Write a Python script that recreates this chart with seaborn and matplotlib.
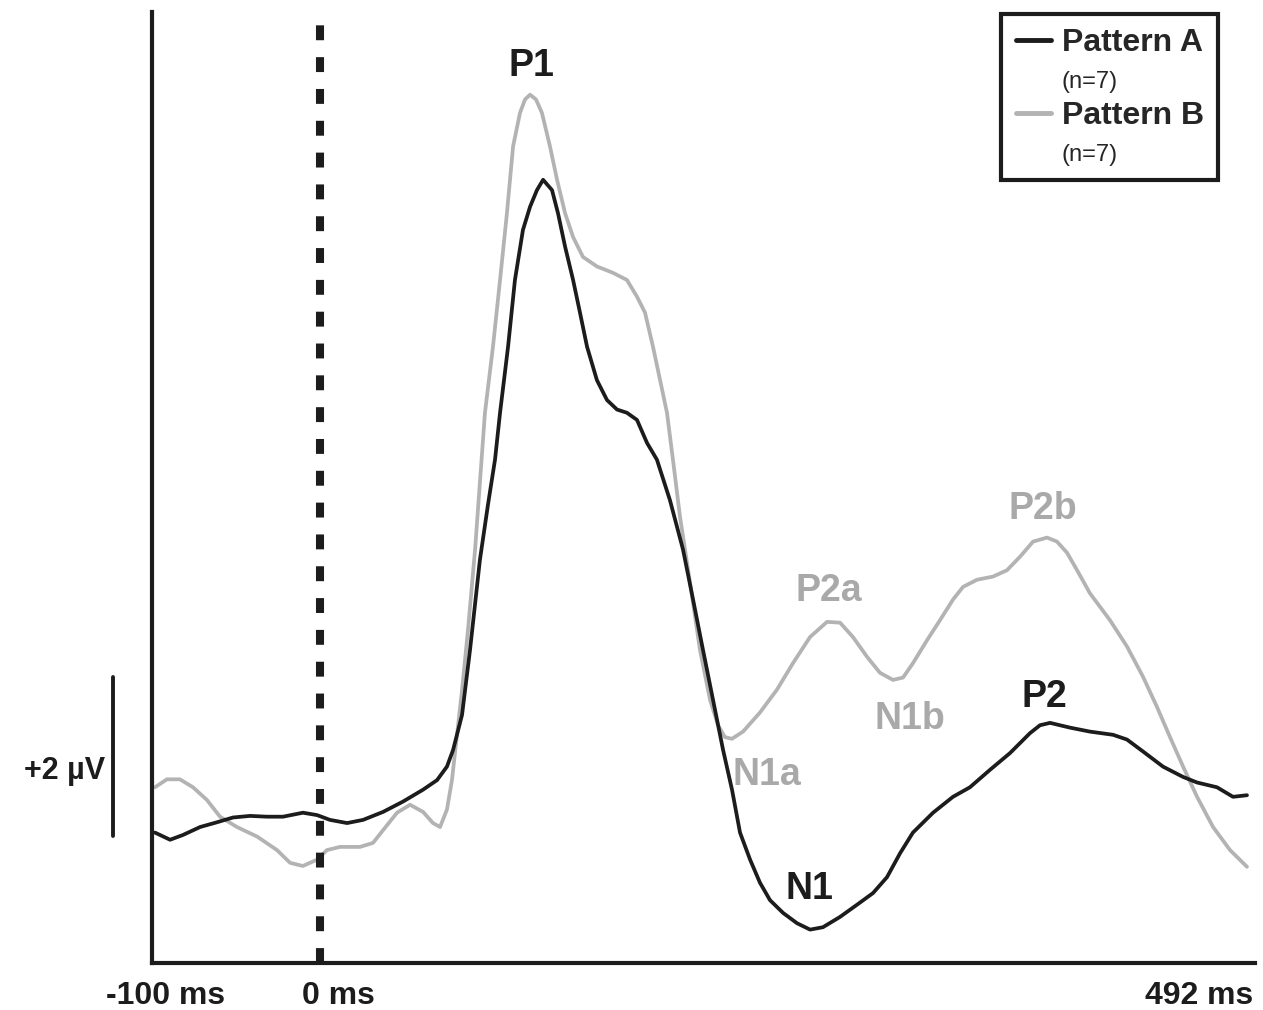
import numpy as np
import pandas as pd
import matplotlib.pyplot as plt
import seaborn as sns
from matplotlib.lines import Line2D
from matplotlib.transforms import ScaledTranslation

# Grand-average waveforms (time in ms, amplitude in microvolts)
time_a = [-98.4, -90.3, -83.4, -74.2, -65.1, -56.5, -47.4, -38.3, -29.7, -19.0,
          -11.4, -4.5, 4.7, 13.3, 24.0, 34.7, 45.5, 53.0, 58.3, 61.6,
          66.4, 70.7, 76.0, 80.3, 84.1, 86.8, 91.1, 94.8, 99.1, 102.9,
          106.6, 109.9, 114.7, 117.9, 121.7, 126.0, 129.7, 133.5, 138.8, 144.2,
          149.6, 154.9, 160.3, 165.7, 171.0, 178.0, 185.0, 190.4, 195.7, 201.1,
          206.5, 211.3, 215.6, 221.0, 226.3, 231.7, 238.7, 246.2, 253.2, 260.1,
          269.3, 280.0, 287.0, 294.5, 301.5, 308.4, 319.2, 329.9, 339.0, 349.8,
          360.5, 371.2, 376.6, 382.0, 392.7, 403.4, 415.8, 423.3, 431.9, 442.6,
          453.4, 460.9, 471.6, 480.2, 487.7]
amp_a = [-0.16, -0.25, -0.19, -0.09, -0.03, 0.03, 0.05, 0.04, 0.04, 0.09,
         0.06, 0.0, -0.04, 0.0, 0.10, 0.23, 0.38, 0.50, 0.67, 0.88,
         1.32, 2.14, 3.27, 3.96, 4.53, 5.12, 5.95, 6.79, 7.42, 7.71,
         7.92, 8.05, 7.92, 7.63, 7.21, 6.79, 6.38, 5.95, 5.53, 5.28,
         5.16, 5.12, 5.03, 4.74, 4.53, 4.02, 3.40, 2.77, 2.14, 1.51,
         0.88, 0.38, -0.16, -0.50, -0.79, -1.01, -1.17, -1.30, -1.38, -1.35,
         -1.22, -1.04, -0.92, -0.72, -0.42, -0.16, 0.09, 0.29, 0.41, 0.63,
         0.84, 1.09, 1.19, 1.22, 1.16, 1.11, 1.07, 1.01, 0.86, 0.67,
         0.54, 0.47, 0.41, 0.29, 0.31]

time_b = [-98.4, -92.0, -85.0, -78.0, -70.5, -63.5, -54.4, -43.6, -32.9, -25.9,
          -19.0, -11.4, -6.1, 0.9, 11.6, 18.6, 24.0, 31.5, 38.5, 45.5,
          50.8, 54.6, 58.3, 61.0, 62.6, 66.4, 69.6, 73.4, 78.7, 83.0,
          86.8, 90.5, 93.8, 97.5, 100.2, 102.9, 106.1, 109.3, 113.6, 117.4,
          121.7, 126.0, 131.3, 138.8, 147.4, 154.9, 160.3, 164.6, 168.9, 172.7,
          176.4, 179.6, 183.4, 188.8, 194.1, 199.5, 203.8, 207.5, 211.3, 217.2,
          226.3, 235.5, 244.0, 253.2, 262.3, 269.3, 276.2, 283.8, 290.7, 297.7,
          303.1, 308.4, 316.0, 322.9, 329.9, 335.3, 342.8, 351.4, 358.9, 365.9,
          372.9, 380.4, 385.7, 391.1, 396.5, 403.4, 414.2, 423.3, 431.9, 439.4,
          446.4, 453.4, 460.9, 469.5, 478.6, 487.7]
amp_b = [0.41, 0.51, 0.51, 0.41, 0.25, 0.04, -0.09, -0.21, -0.38, -0.54,
         -0.58, -0.50, -0.38, -0.34, -0.34, -0.29, -0.13, 0.09, 0.19, 0.10,
         -0.04, -0.09, 0.13, 0.50, 0.84, 1.63, 2.39, 3.40, 5.12, 5.95,
         6.79, 7.63, 8.47, 8.89, 9.06, 9.12, 9.06, 8.89, 8.47, 8.05,
         7.63, 7.33, 7.08, 6.96, 6.88, 6.79, 6.58, 6.38, 5.95, 5.53,
         5.12, 4.53, 3.81, 2.98, 2.14, 1.51, 1.19, 1.04, 1.02, 1.11,
         1.35, 1.64, 1.97, 2.30, 2.49, 2.48, 2.30, 2.05, 1.85, 1.76,
         1.79, 1.97, 2.26, 2.51, 2.77, 2.93, 3.02, 3.06, 3.14, 3.31,
         3.50, 3.55, 3.50, 3.36, 3.14, 2.85, 2.51, 2.18, 1.80, 1.42,
         1.04, 0.67, 0.29, -0.09, -0.38, -0.59]

# component labels: name, time, amplitude (baseline of text), which pattern
peak_names = ['P1', 'N1', 'P2', 'N1a', 'P2a', 'N1b', 'P2b']
peak_time = [103.5, 253, 379, 230, 263, 307, 378]
peak_amp = [9.35, -0.99, 1.42, 0.44, 2.75, 1.14, 3.79]
peak_group = ['A', 'A', 'A', 'B', 'B', 'B', 'B']

tick_pos = [-100, 0, 492]
tick_labels = ['-100 ms', '0 ms', '492 ms']
onset_line = -10   # stimulus marker as drawn
scale_uv = 2

black = '#1c1c1c'
grey = '#b3b3b3'
grey_text = '#a9a9a9'

df = pd.concat([
    pd.DataFrame({'time': time_a, 'amp': amp_a, 'pattern': 'Pattern A'}),
    pd.DataFrame({'time': time_b, 'amp': amp_b, 'pattern': 'Pattern B'}),
])

sns.set_style('white')
plt.rcParams['font.family'] = ['Liberation Sans', 'DejaVu Sans']

fig = plt.figure(figsize=(12.63, 10.10), dpi=100)
ax = fig.add_axes([152 / 1263, 47 / 1010, 1103 / 1263, 951 / 1010])

sns.lineplot(data=df, x='time', y='amp', hue='pattern', hue_order=['Pattern B', 'Pattern A'],
             palette={'Pattern A': black, 'Pattern B': grey}, linewidth=2.7,
             estimator=None, sort=False, legend=False, ax=ax)
for ln in ax.get_lines():
    ln.set_solid_joinstyle('round')

ax.axvline(onset_line, color=black, lw=5.8, dashes=(1.85, 2.1), dash_capstyle='butt')

ax.set_xlim(-100, 492)
ax.set_ylim(-1.8, 10.16)
for side in ['top', 'right']:
    ax.spines[side].set_visible(False)
for side in ['left', 'bottom']:
    ax.spines[side].set_linewidth(3)
    ax.spines[side].set_color(black)
ax.set_yticks([])
ax.set_xticks(tick_pos)
ax.set_xticklabels(tick_labels, fontsize=23, fontweight='bold', color=black)
ax.tick_params(axis='x', length=0, pad=13)
shifts = [10, 0, -40]
for lab, dx in zip(ax.get_xticklabels(), shifts):
    lab.set_transform(lab.get_transform() + ScaledTranslation(dx / 72, 0, fig.dpi_scale_trans))
ax.set_xlabel('')
ax.set_ylabel('')

# amplitude scale bar
ax.plot([-121, -121], [-0.2, -0.2 + scale_uv], color=black, lw=2.8, clip_on=False)
ax.text(-125, 0.62, f'+{scale_uv} µV', fontsize=22, fontweight='bold', color=black,
        ha='right', va='center')

for name, t, a, g in zip(peak_names, peak_time, peak_amp, peak_group):
    ax.text(t, a, name, fontsize=27, fontweight='bold', ha='center', va='baseline',
            color=black if g == 'A' else grey_text)

handles = [Line2D([], [], color=black, lw=3.5), Line2D([], [], color='none'),
           Line2D([], [], color=grey, lw=3.5), Line2D([], [], color='none')]
labels = ['Pattern A', '(n=7)', 'Pattern B', '(n=7)']
leg = ax.legend(handles, labels, loc='upper right', bbox_to_anchor=(0.9665, 0.998),
                frameon=True, fancybox=False, edgecolor=black, framealpha=1,
                fontsize=23, handlelength=1.1, handletextpad=0.33, labelspacing=0.24,
                borderpad=0.45, borderaxespad=0)
leg.get_frame().set_linewidth(3)
for i, txt in enumerate(leg.get_texts()):
    if i % 2 == 0:
        txt.set_fontweight('bold')
    else:
        txt.set_fontsize(17)

fig.savefig('out.png', dpi=100)
